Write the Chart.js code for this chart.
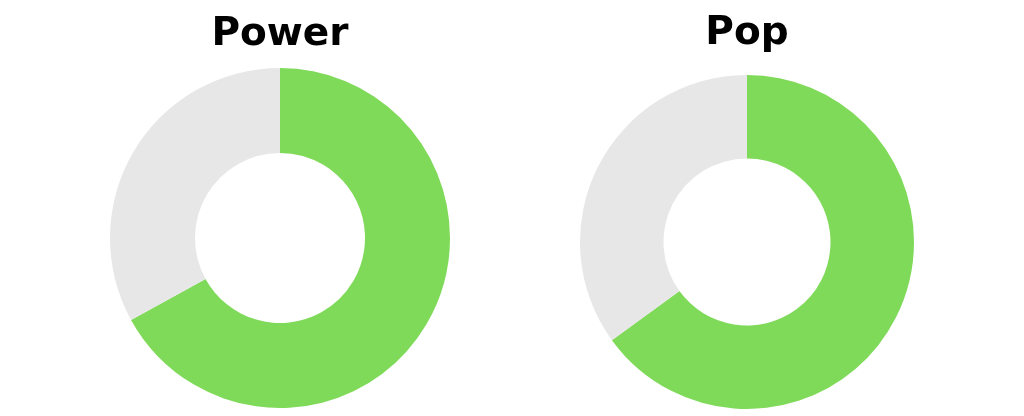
<!DOCTYPE html>
<html lang="en">
<head>
    <meta charset="UTF-8">
    <title>Power / Pop</title>
    <script src="https://cdn.jsdelivr.net/npm/chart.js"></script>
    <style>
        body {
            margin: 0;
            width: 1024px;
            height: 416px;
            background: #ffffff;
            position: relative;
            overflow: hidden;
        }

        /* each donut sits in its own box */
        .chart-box {
            position: absolute;
            top: 0;
            height: 416px;
        }

        #power-box { left: 110px; width: 340px; }
        #pop-box { left: 580px; width: 334px; }
    </style>
</head>
<body>

    <div class="chart-box" id="power-box">
        <canvas id="powerChart"></canvas>
    </div>
    <div class="chart-box" id="pop-box">
        <canvas id="popChart"></canvas>
    </div>

    <script>
        // Values (percent)
        const labels = ['Score', 'Rest'];
        const powerValues = [67, 33];
        const popValues = [65, 35];
        const colors = ['#80da5a', '#e7e7e7'];

        function makeDonut(id, title, values, titlePad, bottomPad) {
            const ctx = document.getElementById(id).getContext('2d');
            return new Chart(ctx, {
                type: 'doughnut',
                data: {
                    labels: labels,
                    datasets: [{
                        data: values,
                        backgroundColor: colors,
                        borderWidth: 0,
                        hoverOffset: 0
                    }]
                },
                options: {
                    responsive: true,
                    maintainAspectRatio: false,
                    animation: false,
                    cutout: '50%',
                    layout: {
                        padding: { bottom: bottomPad }
                    },
                    plugins: {
                        legend: { display: false },
                        tooltip: { enabled: false },
                        title: {
                            display: true,
                            text: title,
                            color: '#000000',
                            font: {
                                family: '"DejaVu Sans", sans-serif',
                                size: 39,
                                weight: 'bold',
                                lineHeight: 1.2
                            },
                            padding: titlePad
                        }
                    }
                }
            });
        }

        makeDonut('powerChart', 'Power', powerValues, { top: 11.6, bottom: 9.6 }, 8);
        makeDonut('popChart', 'Pop', popValues, { top: 10.6, bottom: 17.6 }, 7);
    </script>
</body>
</html>
